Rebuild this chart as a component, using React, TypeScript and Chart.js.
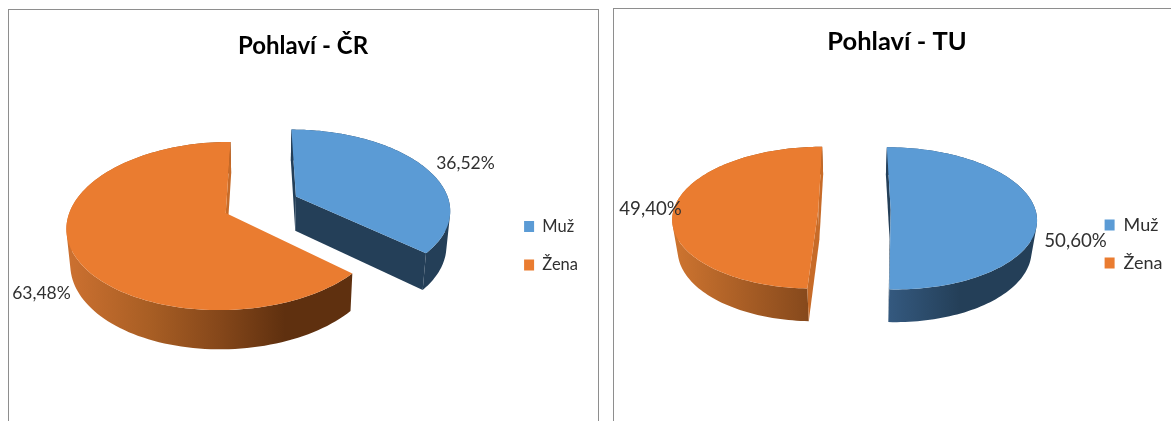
import React, { useEffect, useRef } from "react";
import { Chart, registerables } from "chart.js";

Chart.register(...registerables);

const categories = ["Muž", "Žena"];
const valuesCR = [36.52, 63.48];
const valuesTU = [50.6, 49.4];
const sliceColors = ["#5B9BD5", "#EA7C30"];
const innerWallColors = ["#243F58", "#C76B28"];

const FONT = "Lato, Calibri, sans-serif";

type Stop = [number, string];
interface View {
  originX: number; originY: number;
  cx: number; cy: number; rx: number; ry: number; p: number;
  explode: number; depth: number; k: number;
  walls: Stop[][];
  labels: [number, number][];
  labelSize: number;
}

const viewCR: View = {
  originX: 8, originY: 9,
  cx: 261.4, cy: 204.6, rx: 154, ry: 79.5, p: 0.153,
  explode: 0.25, depth: 34.5, k: 0.98,
  walls: [
    [[290, "#243F58"], [450, "#243F58"]],
    [[70, "#CB7030"], [150, "#A85E24"], [220, "#85471A"], [285, "#5F300F"], [352, "#5F300F"]],
  ],
  labels: [[465.5, 163], [41.5, 293]],
  labelSize: 17.5,
};

const viewTU: View = {
  originX: 613, originY: 8,
  cx: 854.5, cy: 209.6, rx: 144.7, ry: 70, p: 0.118,
  explode: 0.25, depth: 30, k: 0.97,
  walls: [
    [[889, "#34597F"], [960, "#243F58"], [1040, "#243F58"]],
    [[672, "#CF7530"], [808, "#86491C"]],
  ],
  labels: [[1075.5, 241], [650.5, 209]],
  labelSize: 18.7,
};

function makePlugin(view: View) {
  const project = (u: number, v: number) => {
    const w = 1 / (1 - view.p * v);
    return { x: view.cx + view.rx * u * w - view.originX, y: view.cy + view.ry * v * w - view.originY, w };
  };
  const lower = (pt: { x: number; y: number; w: number }) => ({
    x: view.cx - view.originX + (pt.x - (view.cx - view.originX)) * view.k,
    y: pt.y + view.depth * Math.pow(pt.w, 0.7),
  });
  const area = (pts: { x: number; y: number }[]) =>
    pts.reduce((sum, q, i) => {
      const r = pts[(i + 1) % pts.length];
      return sum + q.x * r.y - r.x * q.y;
    }, 0);
  const trace = (ctx: CanvasRenderingContext2D, pts: { x: number; y: number }[]) => {
    pts.forEach((q, i) => (i ? ctx.lineTo(q.x, q.y) : ctx.moveTo(q.x, q.y)));
    ctx.closePath();
  };
  const poly = (ctx: CanvasRenderingContext2D, pts: { x: number; y: number }[], fill: string | CanvasGradient) => {
    ctx.beginPath();
    trace(ctx, pts);
    ctx.fillStyle = fill;
    ctx.fill();
  };
  return {
    id: "pie3d",
    beforeDatasetsDraw(chart: any) {
      const ctx: CanvasRenderingContext2D = chart.ctx;
      const arcs = chart.getDatasetMeta(0).data;
      arcs.forEach((arc: any, i: number) => {
        const { startAngle: s, endAngle: e } = arc;
        const mid = (s + e) / 2;
        const ou = Math.cos(mid) * view.explode;
        const ov = Math.sin(mid) * view.explode;
        const apex = project(ou, ov);
        const rim: { x: number; y: number; w: number }[] = [];
        const n = 120;
        for (let j = 0; j <= n; j++) {
          const a = s + ((e - s) * j) / n;
          rim.push(project(ou + Math.cos(a), ov + Math.sin(a)));
        }
        // outer wall: union of quads so the silhouette is filled
        const stops = view.walls[i];
        const x0 = stops[0][0] - view.originX;
        const x1 = stops[stops.length - 1][0] - view.originX;
        const grad = ctx.createLinearGradient(x0, 0, x1, 0);
        stops.forEach(([x, c]) => grad.addColorStop((x - view.originX - x0) / (x1 - x0), c));
        ctx.beginPath();
        for (let j = 0; j < n; j++) {
          const quad = [rim[j], rim[j + 1], lower(rim[j + 1]), lower(rim[j])];
          trace(ctx, area(quad) < 0 ? quad.reverse() : quad);
        }
        ctx.fillStyle = grad;
        ctx.fill("nonzero");
        // radial walls, only when they face the viewer
        const startWall = [apex, rim[0], lower(rim[0]), lower(apex)];
        const endWall = [apex, rim[n], lower(rim[n]), lower(apex)];
        if (area(startWall) < 0) poly(ctx, startWall, innerWallColors[i]);
        if (area(endWall) > 0) poly(ctx, endWall, innerWallColors[i]);
        // top surface
        poly(ctx, [apex, ...rim], sliceColors[i]);
      });
      return false;
    },
    afterDraw(chart: any) {
      const ctx: CanvasRenderingContext2D = chart.ctx;
      const values: number[] = chart.data.datasets[0].data;
      ctx.save();
      ctx.font = `${view.labelSize}px ${FONT}`;
      ctx.fillStyle = "#303030";
      ctx.textAlign = "center";
      ctx.textBaseline = "middle";
      values.forEach((val, i) => {
        const [x, y] = view.labels[i];
        ctx.fillText(val.toFixed(2).replace(".", ",") + "%", x - view.originX, y - view.originY);
      });
      ctx.restore();
    },
  };
}

function Pie({ title, values, view, width, height, titleSize, titleTop, titleBottom, legendSize, legendGap, sidePad }: any) {
  const ref = useRef<HTMLCanvasElement>(null);
  useEffect(() => {
    const chart = new Chart(ref.current!, {
      type: "pie",
      data: {
        labels: categories,
        datasets: [{ data: values, backgroundColor: sliceColors, borderWidth: 0 }],
      },
      options: {
        responsive: false,
        animation: false,
        layout: { padding: { top: 0, right: sidePad, bottom: 0, left: sidePad } },
        plugins: {
          tooltip: { enabled: false },
          title: {
            display: true,
            text: title,
            color: "#000000",
            font: { family: FONT, size: titleSize, weight: "bold" },
            padding: { top: titleTop, bottom: titleBottom },
          },
          legend: {
            position: "right",
            fullSize: false,
            labels: {
              color: "#303030",
              font: { family: FONT, size: legendSize },
              boxWidth: 10,
              boxHeight: 11,
              padding: legendGap,
            },
          },
        },
      },
      plugins: [makePlugin(view)],
    } as any);
    return () => chart.destroy();
  }, []);
  return (
    <canvas
      ref={ref}
      width={width}
      height={height}
      style={{ position: "absolute", left: view.originX, top: view.originY, width, height }}
    />
  );
}

const border = (left: number, top: number, width: number, height: number): React.CSSProperties => ({
  position: "absolute",
  left,
  top,
  width,
  height,
  boxSizing: "border-box",
  borderTop: "1px solid #8E8E8E",
  borderLeft: "1px solid #8E8E8E",
  borderRight: "1px solid #8E8E8E",
});

export default function App() {
  return (
    <div style={{ position: "fixed", inset: 0, overflow: "hidden", background: "#ffffff" }}>
      <div style={border(8, 9, 591, 412)} />
      <div style={border(613, 8, 600, 413)} />
      <Pie title="Pohlaví - ČR" values={valuesCR} view={viewCR} width={590} height={412} titleSize={24} titleTop={23} titleBottom={9.5} legendSize={16.5} legendGap={22} sidePad={10} />
      <Pie title="Pohlaví - TU" values={valuesTU} view={viewTU} width={568} height={413} titleSize={25.5} titleTop={18.5} titleBottom={10} legendSize={18} legendGap={20} sidePad={8.5} />
    </div>
  );
}
